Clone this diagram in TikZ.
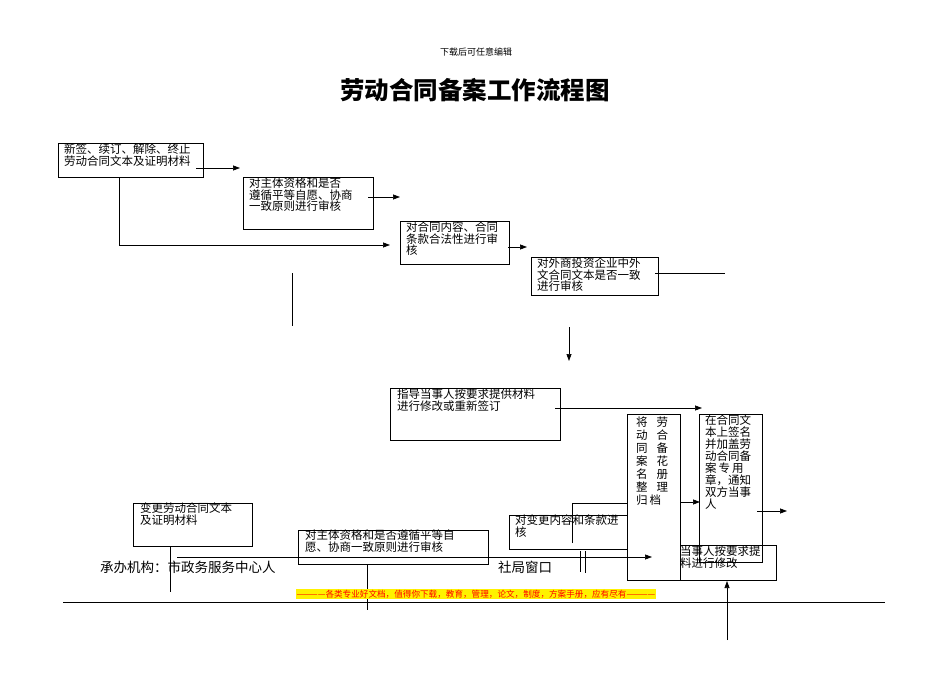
\documentclass[tikz,border=0pt]{standalone}
\usepackage{fontspec}
\setmainfont{Noto Sans CJK SC}
\usetikzlibrary{arrows.meta}
\begin{document}
\begin{tikzpicture}[x=1pt,y=-1pt,
  bx/.style={draw,line width=0.6pt},
  tx/.style={anchor=north west,inner sep=0pt,font=\fontsize{11.5}{11.5}\selectfont,align=left},
  ar/.style={-{Triangle[length=7pt,width=5pt]},line width=0.7pt},
  ln/.style={line width=0.6pt}]
\useasboundingbox (0,0) rectangle (950,672);
\node (top) at (476,52) {\fontsize{9}{9}\selectfont 下载后可任意编辑};
\node (title) at (475,90) {\fontsize{24.5}{26}\selectfont\bfseries 劳动合同备案工作流程图};
% boxes
\draw[bx] (58,143) rectangle (203,177);
\node[tx] (t1) at (64,144) {新签、续订、解除、终止\\劳动合同文本及证明材料};
\draw[bx] (243,177) rectangle (373,229);
\node[tx] (t2) at (249,178) {对主体资格和是否\\遵循平等自愿、协商\\一致原则进行审核};
\draw[bx] (400,221) rectangle (509,264);
\node[tx] (t3) at (406,222) {对合同内容、合同\\条款合法性进行审\\核};
\draw[bx] (531,257) rectangle (658,295);
\node[tx] (t4) at (537,258) {对外商投资企业中外\\文合同文本是否一致\\进行审核};
\coordinate (a1) at (196,168); \coordinate (a2) at (240,168);
\draw[ar] (a1) -- (a2);
\coordinate (b1) at (368,197); \coordinate (b2) at (400,197);
\draw[ar] (b1) -- (b2);
\coordinate (c1) at (508,247); \coordinate (c2) at (527,247);
\draw[ar] (c1) -- (c2);
\coordinate (d1) at (655,273); \coordinate (d2) at (725,273);
\draw[ln] (d1) -- (d2);
\coordinate (e1) at (119,177); \coordinate (e2) at (390,245);
\draw[ar] (e1) |- (e2);
\coordinate (f1) at (292,273); \coordinate (f2) at (292,326);
\draw[ln] (f1) -- (f2);
\coordinate (g1) at (569,327); \coordinate (g2) at (569,361);
\draw[ar] (g1) -- (g2);
% middle
\draw[bx] (390,388) rectangle (560,440);
\node[tx] (t5) at (397,389) {指导当事人按要求提供材料\\进行修改或重新签订};
\coordinate (h1) at (555,408); \coordinate (h2) at (702,408);
\draw[ar] (h1) -- (h2);
\draw[bx] (509,515) rectangle (630,549);
\node[tx] (t9) at (515,515) {对变更内容和条款进\\核};
\draw[bx] (647,545) rectangle (776,580);
\node[tx] (t8) at (680,546) {当事人按要求提\\料进行修改};
\draw[bx,fill=white] (627,414) rectangle (680,580);
\node[tx,font=\fontsize{11.5}{13}\selectfont] (t6) at (636,417) {将\hspace{9pt}劳\\动\hspace{9pt}合\\同\hspace{9pt}备\\案\hspace{9pt}花\\名\hspace{9pt}册\\整\hspace{9pt}理\\归\hspace{2pt}档};
\draw[bx] (699,414) rectangle (762,562);
\node[tx,font=\fontsize{11.5}{12}\selectfont] (t7) at (705,415) {在合同文\\本上签名\\并加盖劳\\动合同备\\案\,专\,用\\章，通知\\双方当事\\人};
\coordinate (i1) at (680,502); \coordinate (i2) at (700,502);
\draw[ar] (i1) -- (i2);
\coordinate (j1) at (757,511); \coordinate (j2) at (787,511);
\draw[ar] (j1) -- (j2);
\coordinate (k1) at (727,640); \coordinate (k2) at (727,581);
\draw[ar] (k1) -- (k2);
\coordinate (l1) at (572,543); \coordinate (l2) at (627,503);
\draw[ln] (l1) |- (l2);
\draw[ln] (580,551) -- (580,572);
\draw[ln] (585,551) -- (585,573);
% bottom
\draw[bx] (133,503) rectangle (252,546);
\node[tx] (t10) at (140,503) {变更劳动合同文本\\及证明材料};
\draw[bx] (298,530) rectangle (488,564);
\node[tx] (t11) at (305,530) {对主体资格和是否遵循平等自\\愿、协商一致原则进行审核};
\draw[ln] (170,546) -- (170,592);
\draw[ln] (367,564) -- (367,610);
\coordinate (m1) at (177,557); \coordinate (m2) at (652,557);
\draw[ar] (m1) -- (m2);
\node[anchor=west,inner sep=0pt,font=\fontsize{13.5}{14}\selectfont] (org) at (100,567) {承办机构：市政务服务中心人};
\node[anchor=west,inner sep=0pt,font=\fontsize{13.5}{14}\selectfont] (win) at (498,567) {社局窗口};
\draw[ln] (63,602) -- (885,602);
\node[fill=yellow,text=red,inner sep=1pt,font=\fontsize{8.6}{9}\selectfont] (ad) at (476,594) {------------各类专业好文档，值得你下载，教育，管理，论文，制度，方案手册，应有尽有------------};
\end{tikzpicture}
\end{document}
